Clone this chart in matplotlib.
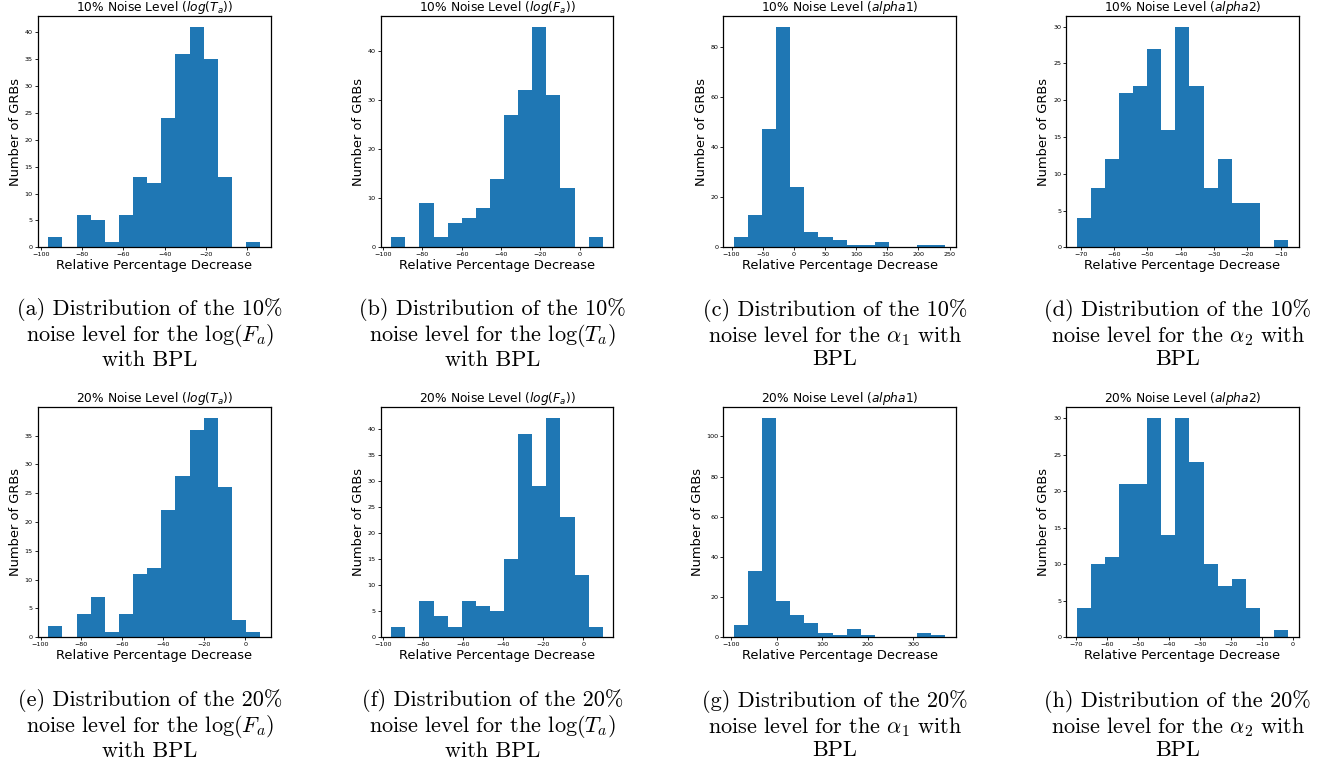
import matplotlib
matplotlib.use('Agg')
import matplotlib.pyplot as plt
import numpy as np
from matplotlib.ticker import MultipleLocator

plt.rcParams['mathtext.fontset'] = 'dejavusans'
plt.rcParams['axes.unicode_minus'] = True

# Histogram counts (15 bins each), with the data range of the bins
titles = [r'10% Noise Level ($log(T_a)$)', r'10% Noise Level ($log(F_a)$)',
          r'10% Noise Level ($alpha1$)', r'10% Noise Level ($alpha2$)',
          r'20% Noise Level ($log(T_a)$)', r'20% Noise Level ($log(F_a)$)',
          r'20% Noise Level ($alpha1$)', r'20% Noise Level ($alpha2$)']

bin_ranges = [(-96.3, 6.1), (-95.8, 11.8), (-96.3, 243.3), (-71.2, -7.8),
              (-96.2, 7.2), (-95.9, 9.6), (-94.6, 371.2), (-69.8, -1.5)]

counts = [
    [2, 0, 6, 5, 1, 6, 13, 12, 24, 36, 41, 35, 13, 0, 1],
    [2, 0, 9, 2, 5, 6, 8, 14, 27, 32, 45, 31, 12, 0, 2],
    [4, 13, 47, 88, 24, 6, 4, 3, 1, 1, 2, 0, 0, 1, 1],
    [4, 8, 12, 21, 22, 27, 16, 30, 22, 8, 12, 6, 6, 0, 1],
    [2, 0, 4, 7, 1, 4, 11, 12, 22, 28, 36, 38, 26, 3, 1],
    [2, 0, 7, 4, 2, 7, 6, 5, 15, 39, 29, 42, 23, 12, 2],
    [6, 33, 109, 18, 11, 7, 2, 1, 4, 1, 0, 0, 0, 2, 1],
    [4, 10, 11, 21, 21, 30, 14, 30, 24, 10, 7, 8, 4, 0, 1],
]

x_steps = [20, 20, 50, 10, 20, 20, 100, 10]
y_steps = [5, 10, 20, 5, 5, 5, 20, 5]

captions = [
    "(a) Distribution of the 10%\nnoise level for the $\\log(F_a)$\nwith BPL",
    "(b) Distribution of the 10%\nnoise level for the $\\log(T_a)$\nwith BPL",
    "(c) Distribution of the 10%\nnoise level for the $\\alpha_1$ with\nBPL",
    "(d) Distribution of the 10%\nnoise level for the $\\alpha_2$ with\nBPL",
    "(e) Distribution of the 20%\nnoise level for the $\\log(F_a)$\nwith BPL",
    "(f) Distribution of the 20%\nnoise level for the $\\log(T_a)$\nwith BPL",
    "(g) Distribution of the 20%\nnoise level for the $\\alpha_1$ with\nBPL",
    "(h) Distribution of the 20%\nnoise level for the $\\alpha_2$ with\nBPL",
]

W, H = 1341, 766
fig = plt.figure(figsize=(W / 100, H / 100), dpi=100)

cols = [(37.7, 270.7), (380.7, 613.3), (723.3, 956.0), (1066.0, 1298.7)]
rows = [(15.7, 247.3), (407.3, 637.3)]
cap_y = [334, 725]

for i in range(8):
    r, c = divmod(i, 4)
    x0, x1 = cols[c]
    y0, y1 = rows[r]
    ax = fig.add_axes([x0 / W, 1 - y1 / H, (x1 - x0) / W, (y1 - y0) / H])
    edges = np.linspace(bin_ranges[i][0], bin_ranges[i][1], len(counts[i]) + 1)
    ax.hist(edges[:-1], bins=edges, weights=counts[i], color='#1f77b4')
    ax.xaxis.set_major_locator(MultipleLocator(x_steps[i]))
    ax.yaxis.set_major_locator(MultipleLocator(y_steps[i]))
    ax.tick_params(labelsize=4.6, length=2, width=0.6, pad=1.5)
    for s in ax.spines.values():
        s.set_linewidth(0.9)
    ax.set_title(titles[i], fontsize=8.8, pad=2)
    ax.set_xlabel('Relative Percentage Decrease', fontsize=9.4, labelpad=1)
    ax.set_ylabel('Number of GRBs', fontsize=9.4, labelpad=2)

    cx = (x0 + x1) / 2 - 4.5
    fig.text(cx / W, 1 - cap_y[r] / H, captions[i], ha='center', va='center',
             fontsize=16, family='cmr10', linespacing=1.1,
             math_fontfamily='cm')

fig.savefig('out.png', dpi=100)
